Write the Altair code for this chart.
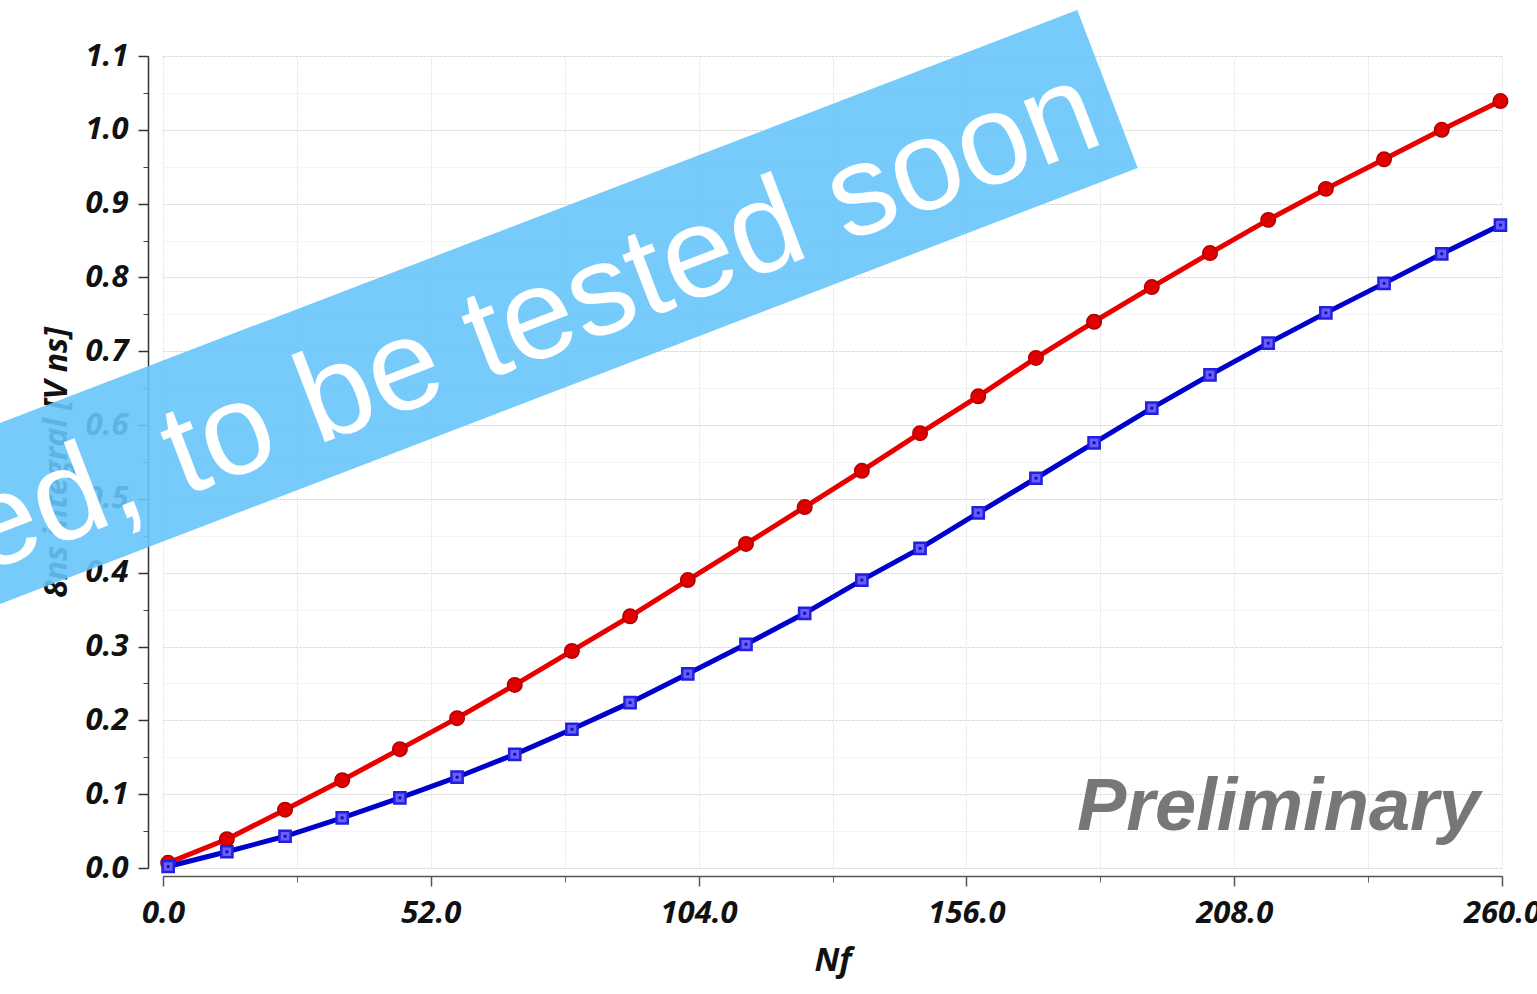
import altair as alt
import pandas as pd

# ---- data ----
nf = [1.0, 12.4, 23.7, 34.8, 46.0, 57.1, 68.3, 79.4, 90.7, 101.9, 113.2, 124.6,
      135.7, 147.0, 158.3, 169.5, 180.8, 192.0, 203.3, 214.6, 225.8, 237.1, 248.3, 259.7]
red_vals = [0.007, 0.039, 0.079, 0.119, 0.161, 0.203, 0.248, 0.294, 0.341, 0.390, 0.439, 0.489,
            0.538, 0.589, 0.639, 0.691, 0.740, 0.787, 0.833, 0.878, 0.920, 0.960, 1.000, 1.039]
blue_vals = [0.002, 0.022, 0.043, 0.068, 0.095, 0.123, 0.154, 0.188, 0.224, 0.263, 0.303, 0.345,
             0.390, 0.433, 0.481, 0.528, 0.576, 0.623, 0.668, 0.711, 0.752, 0.792, 0.832, 0.871]

x_major = [0, 52, 104, 156, 208, 260]
x_minor = [0, 26, 52, 78, 104, 130, 156, 182, 208, 234, 260]
y_major = [0.0, 0.1, 0.2, 0.3, 0.4, 0.5, 0.6, 0.7, 0.8, 0.9, 1.0, 1.1]
y_minor = [0.0, 0.05, 0.1, 0.15, 0.2, 0.25, 0.3, 0.35, 0.4, 0.45, 0.5, 0.55,
           0.6, 0.65, 0.7, 0.75, 0.8, 0.85, 0.9, 0.95, 1.0, 1.05, 1.1]

x_title = "Nf"
y_title = "8ns integral [V ns]"
banner_text = "ed, to be tested soon"
stamp_text = "Preliminary"

df = pd.DataFrame({
    "nf": nf + nf,
    "val": red_vals + blue_vals,
    "series": ["red"] * len(nf) + ["blue"] * len(nf),
})
red_df = df[df.series == "red"]
blue_df = df[df.series == "blue"]

W, H = 1339, 812
FONT = "Open Sans"

xscale = alt.Scale(domain=[0, 260], nice=False, zero=False)
yscale = alt.Scale(domain=[0, 1.1], nice=False, zero=False)

# minor ticks + grid layer (invisible points)
minor = alt.Chart(df).mark_point(opacity=0).encode(
    x=alt.X("nf:Q", scale=xscale, axis=alt.Axis(
        orient="bottom", values=x_minor, labels=False, tickSize=6, tickColor="#666",
        domain=False, grid=True, gridColor="#e6e6e6", gridDash=[2, 1], offset=8, title="")),
    y=alt.Y("val:Q", scale=yscale, axis=alt.Axis(
        orient="left", values=y_minor, labels=False, tickSize=5, tickColor="#444",
        domain=False, grid=True, gridColor="#eeeeee", gridDash=[2, 1], offset=15, title="")),
)

label_common = dict(labelFont=FONT, labelFontSize=31, labelFontStyle="italic",
                    labelFontWeight="bold", labelColor="#111", labelFlush=False,
                    titleFont=FONT, titleFontStyle="italic", titleFontWeight="bold",
                    titleColor="#111")

major = alt.Chart(df).mark_point(opacity=0).encode(
    x=alt.X("nf:Q", scale=xscale, axis=alt.Axis(
        orient="bottom", values=x_major, format=".1f", tickSize=10, tickColor="#555",
        domainColor="#555", domainWidth=1.5, tickWidth=1.5, grid=False, offset=8,
        labelPadding=12, title=x_title, titleFontSize=33, titlePadding=16, **label_common)),
    y=alt.Y("val:Q", scale=yscale, axis=alt.Axis(
        orient="left", values=y_major, format=".1f", tickSize=10, tickColor="#333",
        domainColor="#333", domainWidth=1.5, tickWidth=1.5, grid=True, gridColor="#d2d2d2",
        gridDash=[2, 2], offset=15, labelPadding=10, title=y_title, titleFontSize=32,
        titlePadding=12, **label_common)),
)

enc = dict(x=alt.X("nf:Q", scale=xscale, axis=None), y=alt.Y("val:Q", scale=yscale, axis=None))

red_line = alt.Chart(red_df).mark_line(color="#e80000", strokeWidth=5).encode(**enc)
blue_line = alt.Chart(blue_df).mark_line(color="#0000cc", strokeWidth=5).encode(**enc)
red_pts = alt.Chart(red_df).mark_point(shape="circle", filled=True, size=210, fill="#e00000",
                                       stroke="#b00000", strokeWidth=1.5, opacity=1).encode(**enc)
blue_pts = alt.Chart(blue_df).mark_point(shape="square", filled=True, size=125, fill="#6a5cff",
                                         stroke="#2020dd", strokeWidth=2.5, opacity=1).encode(**enc)
blue_dot = alt.Chart(blue_df).mark_point(shape="square", filled=True, size=8, fill="#1010a0",
                                         opacity=1).encode(**enc)

one = alt.Data(values=[{"k": 1}])

banner = alt.Chart(one).mark_rule(color="#67c5fa", strokeWidth=169, strokeCap="butt",
                                  opacity=0.9).encode(
    x=alt.value(944.5), y=alt.value(33), x2=alt.value(-300), y2=alt.value(510))

banner_label = alt.Chart(one).mark_text(
    text=banner_text, font="Liberation Sans", fontSize=129, color="white",
    align="right", baseline="alphabetic", angle=339).encode(
    x=alt.value(944), y=alt.value(86))

stamp = alt.Chart(one).mark_text(
    text=stamp_text, font="Liberation Sans", fontSize=74, fontWeight="bold",
    fontStyle="italic", color="#777777", align="right", baseline="alphabetic").encode(
    x=alt.value(1317), y=alt.value(774))

chart = alt.layer(
    minor, major, red_line, blue_line, red_pts, blue_pts, blue_dot, stamp, banner, banner_label
).resolve_axis(x="independent", y="independent").properties(
    width=W, height=H,
    autosize=alt.AutoSizeParams(type="none"),
    padding={"left": 163, "top": 56, "right": 35, "bottom": 126},
    background="white",
).configure_view(stroke=None)

chart.save("out.html", embed_options={"renderer": "svg", "actions": False})
